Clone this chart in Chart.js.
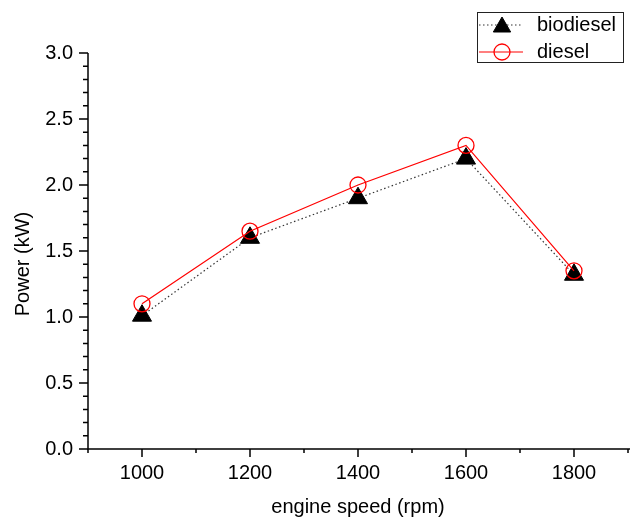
<!DOCTYPE html>
<html>
<head>
<meta charset="utf-8">
<script src="https://cdn.jsdelivr.net/npm/chart.js@4.4.1/dist/chart.umd.min.js"></script>
<style>
  html, body { margin: 0; padding: 0; background: #fff; }
</style>
</head>
<body>
<canvas id="chart" width="630" height="517"></canvas>
<script>
// data
const speeds = [1000, 1200, 1400, 1600, 1800];
const biodiesel = [1.01, 1.6, 1.9, 2.2, 1.32];
const diesel = [1.1, 1.65, 2.0, 2.3, 1.35];
const xTickLabels = [1000, 1200, 1400, 1600, 1800];
const yTickLabels = ["0.0", "0.5", "1.0", "1.5", "2.0", "2.5", "3.0"];

const FONT = '"Liberation Sans", Arial, sans-serif';

function toPoints(xs, ys) {
  return xs.map((x, i) => ({ x: x, y: ys[i] }));
}

// minor ticks every 100 rpm / 0.1 kW, labels only on the majors
function minorTicks(min, max, step) {
  const out = [];
  const n = Math.round((max - min) / step);
  for (let i = 0; i <= n; i++) {
    out.push({ value: Math.round((min + i * step) * 1000) / 1000 });
  }
  return out;
}

function isMajor(scale, value) {
  if (scale.axis === "x") return xTickLabels.includes(value);
  return yTickLabels.some((l) => Math.abs(parseFloat(l) - value) < 1e-6);
}

const axisDecor = {
  id: "axisDecor",
  afterDraw(chart) {
    const { ctx, chartArea, scales } = chart;
    const x = scales.x;
    const y = scales.y;
    ctx.save();
    ctx.strokeStyle = "#000";
    ctx.lineWidth = 1.5;

    // axis lines
    ctx.beginPath();
    ctx.moveTo(chartArea.left, chartArea.top);
    ctx.lineTo(chartArea.left, chartArea.bottom);
    ctx.lineTo(chartArea.right + 2, chartArea.bottom);
    ctx.stroke();

    // tick marks, pointing outward
    ctx.beginPath();
    x.ticks.forEach((t) => {
      const px = x.getPixelForValue(t.value);
      const len = isMajor(x, t.value) ? 8 : 4;
      ctx.moveTo(px, chartArea.bottom);
      ctx.lineTo(px, chartArea.bottom + len);
    });
    y.ticks.forEach((t) => {
      const py = y.getPixelForValue(t.value);
      const len = isMajor(y, t.value) ? 9 : 5;
      ctx.moveTo(chartArea.left, py);
      ctx.lineTo(chartArea.left - len, py);
    });
    ctx.stroke();

    // axis titles
    ctx.fillStyle = "#000";
    ctx.font = "20px " + FONT;
    ctx.textAlign = "center";
    ctx.textBaseline = "middle";
    ctx.fillText("engine speed (rpm)", (chartArea.left + chartArea.right) / 2, 507);
    ctx.translate(23, 264);
    ctx.rotate(-Math.PI / 2);
    ctx.fillText("Power (kW)", 0, 0);
    ctx.restore();
  },
};

// legend box with line + marker samples
const legendBox = {
  id: "legendBox",
  afterDraw(chart) {
    const { ctx } = chart;
    ctx.save();
    ctx.strokeStyle = "#222";
    ctx.lineWidth = 1;
    ctx.strokeRect(477.5, 12.5, 146, 50);

    const rows = [25, 52];
    chart.data.datasets.forEach((ds, i) => {
      const yy = rows[i];
      ctx.save();
      ctx.strokeStyle = ds.borderColor;
      ctx.lineWidth = ds.borderWidth;
      ctx.setLineDash(ds.borderDash || []);
      ctx.beginPath();
      ctx.moveTo(479, yy);
      ctx.lineTo(523, yy);
      ctx.stroke();
      ctx.restore();

      ctx.save();
      ctx.fillStyle = ds.pointBackgroundColor;
      ctx.strokeStyle = ds.pointBorderColor;
      ctx.lineWidth = ds.pointBorderWidth;
      Chart.helpers.drawPoint(
        ctx,
        {
          pointStyle: ds.pointStyle,
          radius: ds.pointStyle === "triangle" ? 10 : 8,
          rotation: 0,
          borderWidth: ds.pointBorderWidth,
        },
        502,
        ds.pointStyle === "triangle" ? yy + 2 : yy
      );
      ctx.restore();

      ctx.fillStyle = "#000";
      ctx.font = "20px " + FONT;
      ctx.textAlign = "left";
      ctx.textBaseline = "middle";
      ctx.fillText(ds.label, 537, yy);
    });
    ctx.restore();
  },
};

new Chart(document.getElementById("chart"), {
  type: "line",
  data: {
    datasets: [
      {
        label: "biodiesel",
        data: toPoints(speeds, biodiesel),
        borderColor: "#333",
        borderWidth: 1.2,
        borderDash: [1.5, 2.5],
        pointStyle: "triangle",
        pointRadius: 11,
        pointBackgroundColor: "#000",
        pointBorderColor: "#000",
        pointBorderWidth: 1,
        order: 1,
        clip: false,
      },
      {
        label: "diesel",
        data: toPoints(speeds, diesel),
        borderColor: "#ff0000",
        borderWidth: 1.2,
        pointStyle: "circle",
        pointRadius: 8,
        pointBackgroundColor: "rgba(0,0,0,0)",
        pointBorderColor: "#ff0000",
        pointBorderWidth: 1.3,
        order: 0,
        clip: false,
      },
    ],
  },
  options: {
    responsive: false,
    animation: false,
    events: [],
    // autoPadding would reserve room for the big markers and shrink the x axis
    layout: { autoPadding: false, padding: { top: 53, right: 2, left: 0, bottom: 0 } },
    scales: {
      x: {
        type: "linear",
        min: 900,
        max: 1900,
        afterBuildTicks: (scale) => {
          scale.ticks = minorTicks(900, 1900, 100);
        },
        afterFit: (scale) => {
          scale.height = 68;
        },
        // tick marks themselves are drawn by axisDecor; tickLength only spaces the labels
        grid: { display: false, drawTicks: true, tickLength: 12 },
        border: { display: false },
        ticks: {
          autoSkip: false,
          maxRotation: 0,
          padding: 0,
          color: "#000",
          font: { family: FONT, size: 20 },
          callback: (v) => (xTickLabels.includes(v) ? String(v) : ""),
        },
      },
      y: {
        min: 0,
        max: 3,
        afterBuildTicks: (scale) => {
          scale.ticks = minorTicks(0, 3, 0.1);
        },
        afterFit: (scale) => {
          scale.width = 88;
        },
        grid: { display: false, drawTicks: true, tickLength: 15 },
        border: { display: false },
        ticks: {
          autoSkip: false,
          padding: 0,
          color: "#000",
          font: { family: FONT, size: 20 },
          callback: (v) => {
            const l = yTickLabels.find((s) => Math.abs(parseFloat(s) - v) < 1e-6);
            return l || "";
          },
        },
      },
    },
    plugins: {
      legend: { display: false },
      tooltip: { enabled: false },
    },
  },
  plugins: [axisDecor, legendBox],
});
</script>
</body>
</html>
